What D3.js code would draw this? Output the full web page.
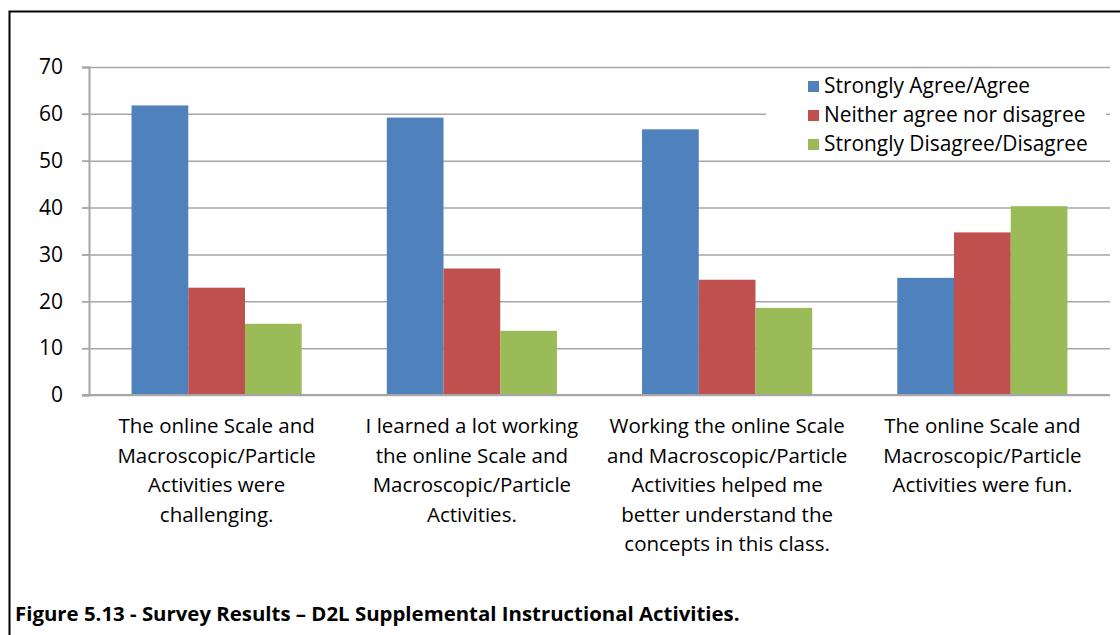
<!DOCTYPE html>
<html>
<head>
<meta charset="utf-8">
<script src="https://cdn.jsdelivr.net/npm/d3@7"></script>
<style>
	body { margin: 0; background: #fff; }
	svg text { font-family: "Open Sans", sans-serif; fill: #000; }
</style>
</head>
<body>
<div id="chart"></div>
<script>
// data
var categories = [
	["The online Scale and", "Macroscopic/Particle", "Activities were", "challenging."],
	["I learned a lot working", "the online Scale and", "Macroscopic/Particle", "Activities."],
	["Working the online Scale", "and Macroscopic/Particle", "Activities helped me", "better understand the", "concepts in this class."],
	["The online Scale and", "Macroscopic/Particle", "Activities were fun."]
];
var seriesNames = ["Strongly Agree/Agree", "Neither agree nor disagree", "Strongly Disagree/Disagree"];
var agree    = [61.8, 59.2, 56.7, 25.0];
var neither  = [22.9, 27.0, 24.6, 34.7];
var disagree = [15.2, 13.7, 18.6, 40.3];
var yTicks = [0, 10, 20, 30, 40, 50, 60, 70];
var colors = ["#4f81bd", "#c0504d", "#9bbb59"];
var caption = "Figure 5.13 - Survey Results \u2013 D2L Supplemental Instructional Activities.";

var W = 1120, H = 635;
var margin = { left: 89, right: 10, top: 67, bottom: 240 };

var svg = d3.select("#chart").append("svg")
	.attr("width", W)
	.attr("height", H);

// frame lines (left + top)
svg.append("path")
	.attr("d", "M9.5," + H + "V11.5H" + W)
	.attr("fill", "none")
	.attr("stroke", "#000")
	.attr("stroke-width", 2);

var series = [agree, neither, disagree];
var idx = d3.range(categories.length);

var x = d3.scaleBand().domain(idx).range([margin.left, W - margin.right]);
var x1 = d3.scaleBand().domain(d3.range(series.length))
	.range([0, x.bandwidth()]).paddingInner(0).paddingOuter(0.75);
var y = d3.scaleLinear().domain([0, 70]).range([H - margin.bottom, margin.top]);

// gridlines
var grid = svg.append("g").attr("class", "grid")
	.attr("transform", "translate(" + (margin.left - 7) + ",0)")
	.call(d3.axisLeft(y).tickValues(yTicks).tickSize(-(W - margin.right - margin.left + 7)).tickFormat(""));
grid.select(".domain").remove();
grid.selectAll("line").attr("stroke", "#a6a6a6").attr("stroke-width", 1.5);

// bars
var groups = svg.append("g").selectAll("g")
	.data(idx)
	.join("g")
	.attr("transform", function(i) { return "translate(" + x(i) + ",0)"; });

groups.selectAll("rect")
	.data(function(i) { return series.map(function(s, k) { return { k: k, v: s[i] }; }); })
	.join("rect")
	.attr("x", function(d) { return x1(d.k); })
	.attr("width", x1.bandwidth())
	.attr("y", function(d) { return y(d.v); })
	.attr("height", function(d) { return y(0) - y(d.v); })
	.attr("fill", function(d) { return colors[d.k]; });

// y axis
var yAxis = svg.append("g")
	.attr("transform", "translate(" + margin.left + ",0)")
	.call(d3.axisLeft(y).tickValues(yTicks).tickSize(7).tickPadding(19));
yAxis.select(".domain").attr("stroke", "#a6a6a6").attr("stroke-width", 2);
yAxis.selectAll("line").attr("stroke", "#a6a6a6").attr("stroke-width", 1.5);
yAxis.selectAll("text").style("font-size", "21px");

// x axis baseline
svg.append("line")
	.attr("x1", margin.left - 7).attr("x2", W - margin.right)
	.attr("y1", y(0)).attr("y2", y(0))
	.attr("stroke", "#a6a6a6").attr("stroke-width", 2);

// category labels
var labels = svg.append("g").selectAll("text")
	.data(idx)
	.join("text")
	.attr("text-anchor", "middle")
	.style("font-size", "20.5px")
	.attr("x", function(i) { return x(i) + x.bandwidth() / 2; })
	.attr("y", y(0) + 38);
labels.selectAll("tspan")
	.data(function(i) { return categories[i]; })
	.join("tspan")
	.attr("x", function() { return d3.select(this.parentNode).attr("x"); })
	.attr("dy", function(d, j) { return j === 0 ? 0 : 29.5; })
	.text(function(d) { return d; });

// legend
var legend = svg.append("g").attr("transform", "translate(766,70)");
legend.append("rect")
	.attr("width", 340).attr("height", 88)
	.attr("fill", "#fff");
var item = legend.selectAll("g.item")
	.data(seriesNames)
	.join("g")
	.attr("class", "item")
	.attr("transform", function(d, i) { return "translate(42," + (16 + i * 29) + ")"; });
item.append("rect")
	.attr("x", 0).attr("y", -5).attr("width", 11).attr("height", 11)
	.attr("fill", function(d, i) { return colors[i]; });
item.append("text")
	.attr("x", 16).attr("dy", "0.35em")
	.style("font-size", "20.9px")
	.text(function(d) { return d; });

// caption
svg.append("text")
	.attr("x", 15).attr("y", 621)
	.style("font-size", "20.4px")
	.style("font-weight", "bold")
	.text(caption);
</script>
</body>
</html>
